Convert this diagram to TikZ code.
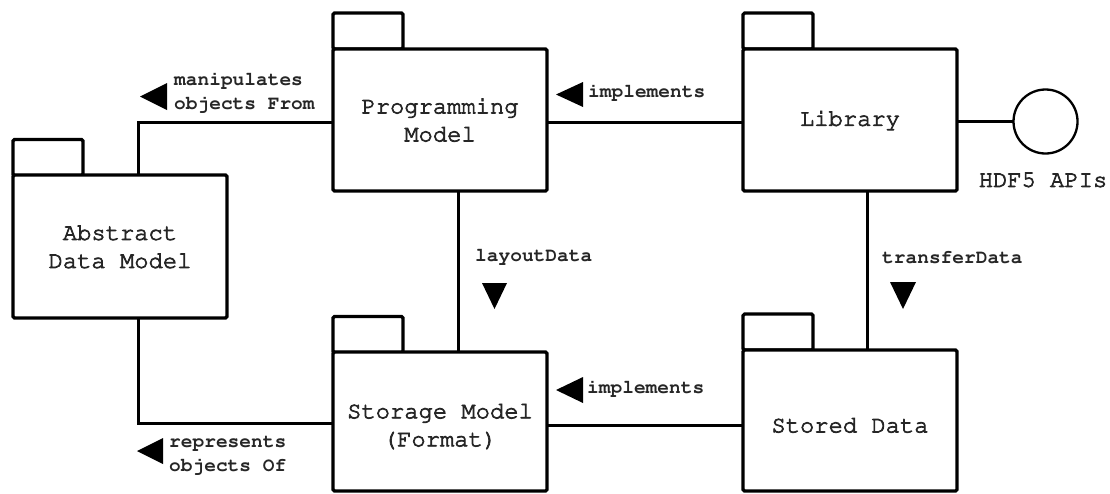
\documentclass[tikz,border=0pt]{standalone}
\usepackage[T1]{fontenc}
\newcommand\heavytext[1]{\special{pdf:literal direct 2 Tr 0.75 w}#1\special{pdf:literal direct 0 Tr}}
\begin{document}
\begin{tikzpicture}[x=1pt,y=-1pt,
  pkgfont/.style={font=\fontfamily{pcr}\selectfont\fontsize{23.8}{28}\selectfont, text=black!85, align=center, inner sep=0pt},
  pkgbody/.style={draw=black, line width=3.2pt, rounded corners=1.5pt, fill=white,
    inner sep=0pt, outer sep=0pt, minimum width=214pt},
  pkgtab/.style={draw=black, line width=3.2pt, rounded corners=1.5pt, fill=white,
    inner sep=0pt, outer sep=0pt, minimum width=70pt, minimum height=36pt},
  conn/.style={draw=black, line width=3pt},
  lbl/.style={inner sep=0pt, align=left, anchor=west,
    font=\fontfamily{pcr}\bfseries\fontsize{19.5}{24}\selectfont, text=black!85},
  tri/.style={fill=black, draw=none}
]
\useasboundingbox (0,0) rectangle (1110,493);

% package tabs
\node[pkgtab] (abstab) at (48,157.5) {};
\node[pkgtab] (progtab) at (368,31) {};
\node[pkgtab] (libtab) at (778,31) {};
\node[pkgtab] (stotab) at (368,334.5) {};
\node[pkgtab] (sdtab) at (778,332) {};

% package bodies
\node[pkgbody, minimum height=143pt, label={[pkgfont]center:{\heavytext{Abstract}\\\heavytext{Data Model}}}] (abs) at (120,246.5) {};
\node[pkgbody, minimum height=142pt, label={[pkgfont]center:{\heavytext{Programming}\\\heavytext{Model}}}] (prog) at (440,120) {};
\node[pkgbody, minimum height=142pt, label={[pkgfont]center:{\heavytext{Library}}}] (lib) at (850,120) {};
\node[pkgbody, minimum height=139pt, label={[pkgfont, yshift=-4.5pt]center:{\heavytext{Storage Model}\\\heavytext{(Format)}}}] (sto) at (440,421.5) {};
\node[pkgbody, minimum height=141pt, label={[pkgfont, yshift=-4.5pt]center:{\heavytext{Stored Data}}}] (sd) at (850,420.5) {};

% interface
\node[draw=black, line width=2.3pt, circle, minimum size=64pt, inner sep=0pt, outer sep=0pt] (api) at (1045.5,121.5) {};
\node[pkgfont] (apilbl) at (1043,180) {\heavytext{HDF5 APIs}};

% connectors
\draw[conn] ([xshift=18pt]abs.north) |- ([yshift=-2.5pt]prog.west);
\draw[conn] ([yshift=-2.5pt]prog.east) -- ([yshift=-2.5pt]lib.west);
\draw[line width=2.3pt] (lib.east |- api.west) -- (api.west);
\draw[conn] ([xshift=18pt]prog.south) -- ([xshift=18pt]sto.north);
\draw[conn] ([xshift=17pt]lib.south) -- ([xshift=17pt]sd.north);
\draw[conn] ([yshift=-3.5pt]sto.east) -- ([yshift=-3.5pt]sto.east -| sd.west);
\draw[conn] ([xshift=18pt]abs.south) |- ([yshift=-1.5pt]sto.west);

% labels
\node[lbl] (l1) at (174,92) {manipulates\\objects From};
\node[lbl] (l2) at (588,92) {implements};
\node[lbl] (l3) at (475,257) {layoutData};
\node[lbl] (l4) at (882,258) {transferData};
\node[lbl] (l5) at (587,388) {implements};
\node[lbl] (l6) at (169,455) {represents\\objects Of};

% direction triangles
\fill[tri] (140,96.5) -- (167,83) -- (167,110) -- cycle;
\fill[tri] (556,94.5) -- (583,82) -- (583,107) -- cycle;
\fill[tri] (482,283) -- (507,283) -- (494.5,309) -- cycle;
\fill[tri] (890,282) -- (916,282) -- (903,309) -- cycle;
\fill[tri] (556,390) -- (583,377) -- (583,403) -- cycle;
\fill[tri] (137,451) -- (163,438) -- (163,464) -- cycle;
\end{tikzpicture}
\end{document}
